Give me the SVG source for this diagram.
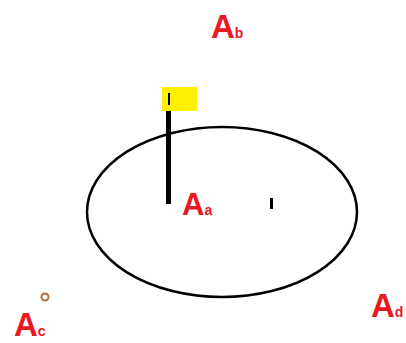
<svg xmlns="http://www.w3.org/2000/svg" width="406" height="343" viewBox="0 0 406 343">
<style>
.lbl{font-family:"Liberation Sans",Arial,sans-serif;font-weight:bold;fill:#e8191f}
.big{font-size:33px}
.sub{font-size:14px}
</style>
<rect width="406" height="343" fill="#fff"/>
<g id="ellipse"><ellipse cx="222" cy="212" rx="135" ry="85" fill="none" stroke="#000" stroke-width="2.5"/></g>
<g id="connectors">
<line x1="168.5" y1="108" x2="168.5" y2="204" stroke="#000" stroke-width="5"/>
</g>
<g id="flag">
<rect x="162" y="87" width="35" height="24" fill="#ffef00"/>
<rect x="168" y="93" width="2" height="12" fill="#000"/>
</g>
<g id="tick"><rect x="270" y="198" width="3" height="11" fill="#000"/></g>
<g id="Aa"><text class="lbl" x="182" y="215"><tspan class="big" style="font-size:31px">A</tspan><tspan class="sub">a</tspan></text></g>
<g id="Ab"><text class="lbl" x="211" y="38"><tspan class="big">A</tspan><tspan class="sub">b</tspan></text></g>
<g id="Ac"><circle cx="45" cy="297" r="3.5" fill="none" stroke="#b0703a" stroke-width="2"/><text class="lbl" x="14" y="336"><tspan class="big">A</tspan><tspan class="sub">c</tspan></text></g>
<g id="Ad"><text class="lbl" x="371" y="317"><tspan class="big">A</tspan><tspan class="sub">d</tspan></text></g>
</svg>
